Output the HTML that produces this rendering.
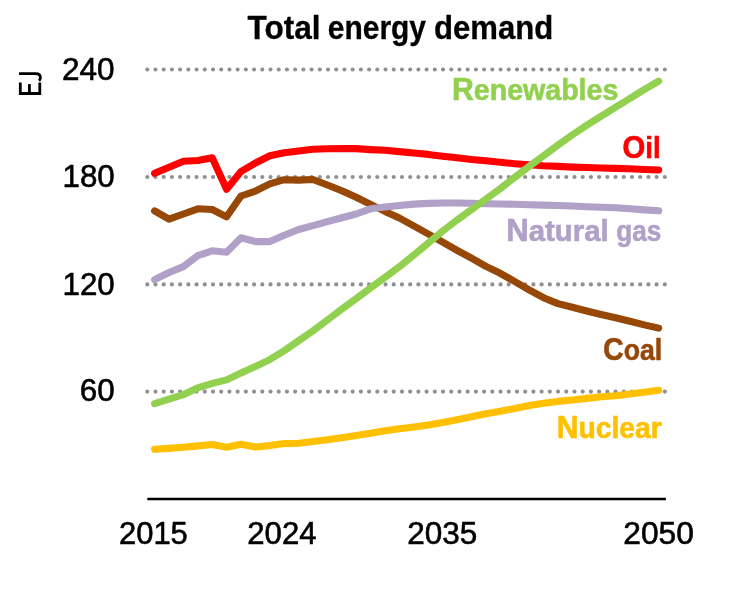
<!DOCTYPE html>
<html><head><meta charset="utf-8"><title>Total energy demand</title>
<style>
html,body{margin:0;padding:0;background:#fff;}
svg{display:block;font-family:"Liberation Sans",sans-serif;will-change:transform;}
</style></head>
<body>
<svg width="730" height="590" viewBox="0 0 730 590">
<rect width="730" height="590" fill="#ffffff"/>
<!-- dotted gridlines -->
<line x1="147.27" y1="69.5" x2="665.5" y2="69.5" stroke="#909090" stroke-width="4.2" stroke-linecap="round" stroke-dasharray="0 8.2156"/>
<line x1="147.27" y1="177.0" x2="665.5" y2="177.0" stroke="#909090" stroke-width="4.2" stroke-linecap="round" stroke-dasharray="0 8.2156"/>
<line x1="147.27" y1="284.4" x2="665.5" y2="284.4" stroke="#909090" stroke-width="4.2" stroke-linecap="round" stroke-dasharray="0 8.2156"/>
<line x1="147.27" y1="391.6" x2="665.5" y2="391.6" stroke="#909090" stroke-width="4.2" stroke-linecap="round" stroke-dasharray="0 8.2156"/>
<!-- x axis -->
<line x1="147.3" y1="499.1" x2="665.9" y2="499.1" stroke="#000" stroke-width="2.5"/>
<!-- series -->
<path d="M154.6,449.3 L169.0,448.4 L183.4,447.3 L197.8,445.9 L212.2,444.5 L226.6,447.3 L241.0,444.2 L255.4,447.0 L269.8,445.6 L284.2,443.6 L298.6,443.2 L313.0,441.5 L327.4,439.8 L341.8,437.7 L356.2,435.5 L370.6,433.2 L385.0,430.8 L399.4,428.8 L413.9,426.9 L428.3,424.9 L442.7,422.6 L457.1,419.7 L471.5,416.7 L485.9,413.7 L500.3,411.2 L514.7,408.5 L529.1,405.6 L543.5,403.2 L557.9,401.4 L572.3,400.0 L586.7,398.4 L601.1,396.8 L615.5,395.8 L629.9,394.0 L644.3,392.2 L658.7,390.3" fill="none" stroke="#FFC000" stroke-width="7.1" stroke-linecap="round" stroke-linejoin="round"/>
<path d="M154.6,210.9 L169.0,219.1 L183.4,214.0 L197.8,208.8 L212.2,209.5 L226.6,216.8 L241.0,196.0 L255.4,191.1 L269.8,183.8 L284.2,179.7 L298.6,180.1 L313.0,179.5 L327.4,185.0 L341.8,190.7 L356.2,197.3 L370.6,204.4 L385.0,211.4 L399.4,218.0 L413.9,226.0 L428.3,234.0 L442.7,242.2 L457.1,250.4 L471.5,258.2 L485.9,266.4 L500.3,273.3 L514.7,281.5 L529.1,289.9 L543.5,297.7 L557.9,303.6 L572.3,307.3 L586.7,311.0 L601.1,314.5 L615.5,317.8 L629.9,321.2 L644.3,324.9 L658.7,328.1" fill="none" stroke="#974706" stroke-width="7.1" stroke-linecap="round" stroke-linejoin="round"/>
<path d="M154.6,279.6 L169.0,272.5 L183.4,266.6 L197.8,255.6 L212.2,250.8 L226.6,252.2 L241.0,237.8 L255.4,241.6 L269.8,241.6 L284.2,235.2 L298.6,229.5 L313.0,225.6 L327.4,221.6 L341.8,217.7 L356.2,214.0 L370.6,208.8 L385.0,207.0 L399.4,205.5 L413.9,204.1 L428.3,203.4 L442.7,203.0 L457.1,203.0 L471.5,203.3 L485.9,203.7 L500.3,204.0 L514.7,204.3 L529.1,204.7 L543.5,205.1 L557.9,205.5 L572.3,206.0 L586.7,206.7 L601.1,207.2 L615.5,207.8 L629.9,208.8 L644.3,209.9 L658.7,210.8" fill="none" stroke="#B1A0C7" stroke-width="7.1" stroke-linecap="round" stroke-linejoin="round"/>
<path d="M154.6,173.3 L169.0,167.3 L183.4,161.2 L197.8,160.5 L212.2,157.8 L226.6,189.3 L241.0,171.5 L255.4,163.0 L269.8,155.8 L284.2,152.7 L298.6,151.0 L313.0,149.3 L327.4,148.7 L341.8,148.6 L356.2,148.6 L370.6,149.6 L385.0,150.3 L399.4,151.6 L413.9,153.0 L428.3,154.4 L442.7,156.2 L457.1,157.8 L471.5,159.5 L485.9,160.8 L500.3,162.3 L514.7,163.7 L529.1,164.8 L543.5,165.8 L557.9,166.4 L572.3,167.1 L586.7,167.5 L601.1,168.0 L615.5,168.4 L629.9,168.8 L644.3,169.5 L658.7,170.0" fill="none" stroke="#FF0000" stroke-width="7.1" stroke-linecap="round" stroke-linejoin="round"/>
<path d="M154.6,403.6 L169.0,399.2 L183.4,394.7 L197.8,387.8 L212.2,383.4 L226.6,379.9 L241.0,373.0 L255.4,366.4 L269.8,359.6 L284.2,350.7 L298.6,340.8 L313.0,330.8 L327.4,320.0 L341.8,309.2 L356.2,298.6 L370.6,287.9 L385.0,277.3 L399.4,266.7 L413.9,255.0 L428.3,243.0 L442.7,231.0 L457.1,220.0 L471.5,209.6 L485.9,199.2 L500.3,188.6 L514.7,177.4 L529.1,166.4 L543.5,155.9 L557.9,145.2 L572.3,134.9 L586.7,125.3 L601.1,116.2 L615.5,107.3 L629.9,98.4 L644.3,89.5 L658.7,81.2" fill="none" stroke="#92D050" stroke-width="7.1" stroke-linecap="round" stroke-linejoin="round"/>
<!-- title -->
<text x="247.5" y="39.0" font-size="32.5" font-weight="bold" fill="#000" stroke="#000" stroke-width="0.3" textLength="73.07" lengthAdjust="spacingAndGlyphs">Total</text>
<text x="327.75" y="39.0" font-size="32.5" font-weight="bold" fill="#000" stroke="#000" stroke-width="0.3" textLength="98.26" lengthAdjust="spacingAndGlyphs">energy</text>
<text x="434.0" y="39.0" font-size="32.5" font-weight="bold" fill="#000" stroke="#000" stroke-width="0.3" textLength="119.33" lengthAdjust="spacingAndGlyphs">demand</text>
<!-- y labels -->
<text x="62.0" y="79.6" font-size="31.6" font-weight="normal" fill="#000" stroke="#000" stroke-width="0.6" textLength="52.6" lengthAdjust="spacingAndGlyphs">240</text>
<text x="62.5" y="186.5" font-size="31.6" font-weight="normal" fill="#000" stroke="#000" stroke-width="0.6" textLength="52.18" lengthAdjust="spacingAndGlyphs">180</text>
<text x="62.5" y="294.6" font-size="31.6" font-weight="normal" fill="#000" stroke="#000" stroke-width="0.6" textLength="52.18" lengthAdjust="spacingAndGlyphs">120</text>
<text x="79.75" y="401.4" font-size="31.6" font-weight="normal" fill="#000" stroke="#000" stroke-width="0.6" textLength="34.9" lengthAdjust="spacingAndGlyphs">60</text>
<!-- x labels -->
<text x="119.0" y="543.6" font-size="31.6" font-weight="normal" fill="#000" stroke="#000" stroke-width="0.6" textLength="68.83" lengthAdjust="spacingAndGlyphs">2015</text>
<text x="247.25" y="543.6" font-size="31.6" font-weight="normal" fill="#000" stroke="#000" stroke-width="0.6" textLength="69.3" lengthAdjust="spacingAndGlyphs">2024</text>
<text x="407.25" y="543.6" font-size="31.6" font-weight="normal" fill="#000" stroke="#000" stroke-width="0.6" textLength="70.08" lengthAdjust="spacingAndGlyphs">2035</text>
<text x="623.25" y="543.6" font-size="31.6" font-weight="normal" fill="#000" stroke="#000" stroke-width="0.6" textLength="70.58" lengthAdjust="spacingAndGlyphs">2050</text>
<!-- EJ (rotated), drawn as strokes -->
<g fill="none" stroke="#000" stroke-width="2.8" stroke-linejoin="miter" stroke-linecap="butt"><path d="M20.3,82.5 V93.5 H39.8 V82.5"/><path d="M29.4,93.5 V84.1"/><path d="M19.0,73.6 H35.6 Q40.4,73.6 40.4,77.6 Q40.4,79.6 39.0,80.8"/></g>
<!-- series labels -->
<text x="452.0" y="99.5" font-size="30" font-weight="bold" fill="#92D050" stroke="#92D050" stroke-width="0.6" textLength="166.29" lengthAdjust="spacingAndGlyphs"><tspan font-size="31.8">R</tspan>enewables</text>
<text x="622.5" y="157.8" font-size="30" font-weight="bold" fill="#FF0000" stroke="#FF0000" stroke-width="0.6" textLength="38.17" lengthAdjust="spacingAndGlyphs"><tspan font-size="31.8">O</tspan>il</text>
<text x="506.25" y="240.7" font-size="30" font-weight="bold" fill="#B1A0C7" stroke="#B1A0C7" stroke-width="0.6" textLength="102.38" lengthAdjust="spacingAndGlyphs"><tspan font-size="31.8">N</tspan>atural</text>
<text x="616.25" y="240.7" font-size="30" font-weight="bold" fill="#B1A0C7" stroke="#B1A0C7" stroke-width="0.6" textLength="45.07" lengthAdjust="spacingAndGlyphs">gas</text>
<text x="603.25" y="359.6" font-size="30" font-weight="bold" fill="#974706" stroke="#974706" stroke-width="0.6" textLength="58.87" lengthAdjust="spacingAndGlyphs"><tspan font-size="31.8">C</tspan>oal</text>
<text x="556.75" y="437.8" font-size="30" font-weight="bold" fill="#FFC000" stroke="#FFC000" stroke-width="0.6" textLength="105.04" lengthAdjust="spacingAndGlyphs"><tspan font-size="31.8">N</tspan>uclear</text>
</svg>
</body></html>
